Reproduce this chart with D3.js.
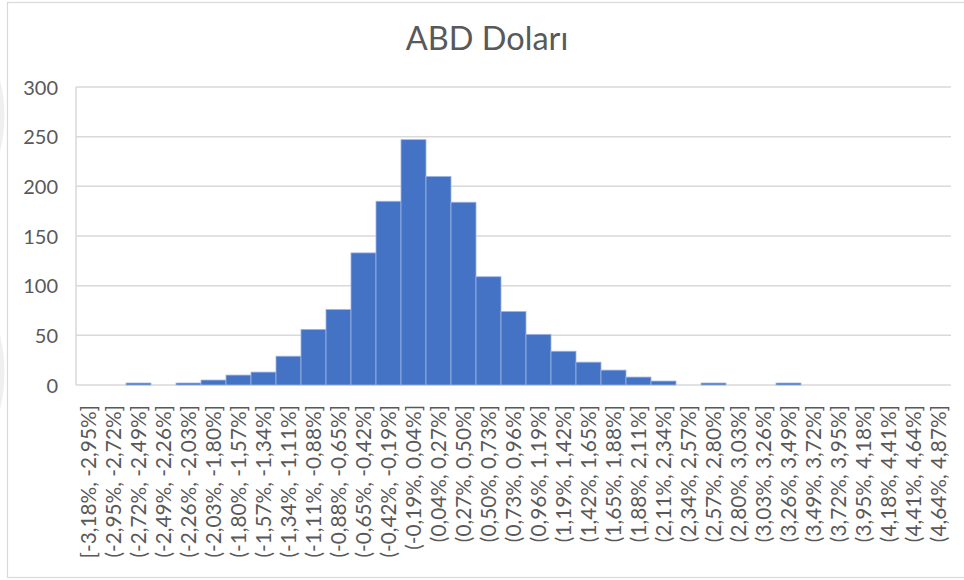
<!DOCTYPE html>
<html>
<head>
<meta charset="utf-8">
<script src="https://cdn.jsdelivr.net/npm/d3@7"></script>
<style>
  html, body { margin: 0; padding: 0; background: #fff; }
  svg { display: block; }
  text { font-family: Lato, "Noto Sans", sans-serif; fill: #595959; }
</style>
</head>
<body>
<svg id="chart" width="964" height="580"></svg>
<script>
// Histogram bins (daily % change) and their counts
const binLabels = [
  "[-3,18%, -2,95%]", "(-2,95%, -2,72%]", "(-2,72%, -2,49%]", "(-2,49%, -2,26%]",
  "(-2,26%, -2,03%]", "(-2,03%, -1,80%]", "(-1,80%, -1,57%]", "(-1,57%, -1,34%]",
  "(-1,34%, -1,11%]", "(-1,11%, -0,88%]", "(-0,88%, -0,65%]", "(-0,65%, -0,42%]",
  "(-0,42%, -0,19%]", "(-0,19%, 0,04%]", "(0,04%, 0,27%]", "(0,27%, 0,50%]",
  "(0,50%, 0,73%]", "(0,73%, 0,96%]", "(0,96%, 1,19%]", "(1,19%, 1,42%]",
  "(1,42%, 1,65%]", "(1,65%, 1,88%]", "(1,88%, 2,11%]", "(2,11%, 2,34%]",
  "(2,34%, 2,57%]", "(2,57%, 2,80%]", "(2,80%, 3,03%]", "(3,03%, 3,26%]",
  "(3,26%, 3,49%]", "(3,49%, 3,72%]", "(3,72%, 3,95%]", "(3,95%, 4,18%]",
  "(4,18%, 4,41%]", "(4,41%, 4,64%]", "(4,64%, 4,87%]"
];
const counts = [
  0, 0, 2, 0, 2, 5, 10, 13, 29, 56, 76, 133, 185, 247, 210, 184, 109, 74,
  51, 34, 23, 15, 8, 4, 0, 2, 0, 0, 2, 0, 0, 0, 0, 0, 0
];
const yTicks = [0, 50, 100, 150, 200, 250, 300];
const title = "ABD Doları";

const svg = d3.select("#chart");
const W = 964, H = 580;
const plot = { left: 76, right: 951, top: 87, bottom: 385 };

// faint shapes at the far left edge
const edge = svg.append("g").attr("fill", "#efefef");
edge.append("path").attr("d", "M0,80 Q9,115 0,152 Z");
edge.append("path").attr("d", "M0,335 Q9,372 0,410 Z");

// chart frame
svg.append("rect")
  .attr("x", 7.5).attr("y", 2.5)
  .attr("width", W + 10).attr("height", 575)
  .attr("fill", "none").attr("stroke", "#d9d9d9").attr("stroke-width", 1.2);

const x = d3.scaleBand()
  .domain(binLabels)
  .range([plot.left, plot.right])
  .paddingInner(0).paddingOuter(0);

const y = d3.scaleLinear()
  .domain([0, 300])
  .range([plot.bottom, plot.top]);

// gridlines
svg.append("g")
  .selectAll("line")
  .data(yTicks)
  .join("line")
  .attr("x1", plot.left).attr("x2", plot.right)
  .attr("y1", d => y(d)).attr("y2", d => y(d))
  .attr("stroke", "#d9d9d9").attr("stroke-width", 1.5);

// left edge of plot area
svg.append("line")
  .attr("x1", plot.left).attr("x2", plot.left)
  .attr("y1", y(300)).attr("y2", y(0))
  .attr("stroke", "#d9d9d9").attr("stroke-width", 1.5);

// bars
svg.append("g")
  .selectAll("rect")
  .data(counts.map((c, i) => ({ label: binLabels[i], c })).filter(d => d.c > 0))
  .join("rect")
  .attr("x", d => x(d.label))
  .attr("width", x.bandwidth())
  .attr("y", d => y(d.c))
  .attr("height", d => y(0) - y(d.c))
  .attr("fill", "#4472c4")
  .attr("stroke", "#9fb6e2")
  .attr("stroke-width", 0.8);

// y axis labels
const yAxis = d3.axisLeft(y).tickValues(yTicks).tickSize(0).tickPadding(0);
const gy = svg.append("g")
  .attr("transform", `translate(58,0)`)
  .call(yAxis);
gy.select(".domain").remove();
gy.selectAll("text")
  .attr("font-size", 20)
  .attr("fill", "#595959")
  .style("font-family", "Lato, 'Noto Sans', sans-serif")
  .attr("dy", "0.36em");

// x axis labels, rotated
const xAxis = d3.axisBottom(x).tickSize(0).tickPadding(0);
const gx = svg.append("g")
  .attr("transform", `translate(0,405)`)
  .call(xAxis);
gx.select(".domain").remove();
gx.selectAll("text")
  .attr("font-size", 20.8)
  .attr("fill", "#595959")
  .style("font-family", "Lato, 'Noto Sans', sans-serif")
  .attr("text-anchor", "end")
  .attr("transform", "rotate(-90)")
  .attr("x", 0).attr("y", 0)
  .attr("dy", "0.36em");

// title
svg.append("text")
  .attr("x", 487).attr("y", 50)
  .attr("text-anchor", "middle")
  .attr("font-size", 32.5)
  .text(title);
</script>
</body>
</html>
